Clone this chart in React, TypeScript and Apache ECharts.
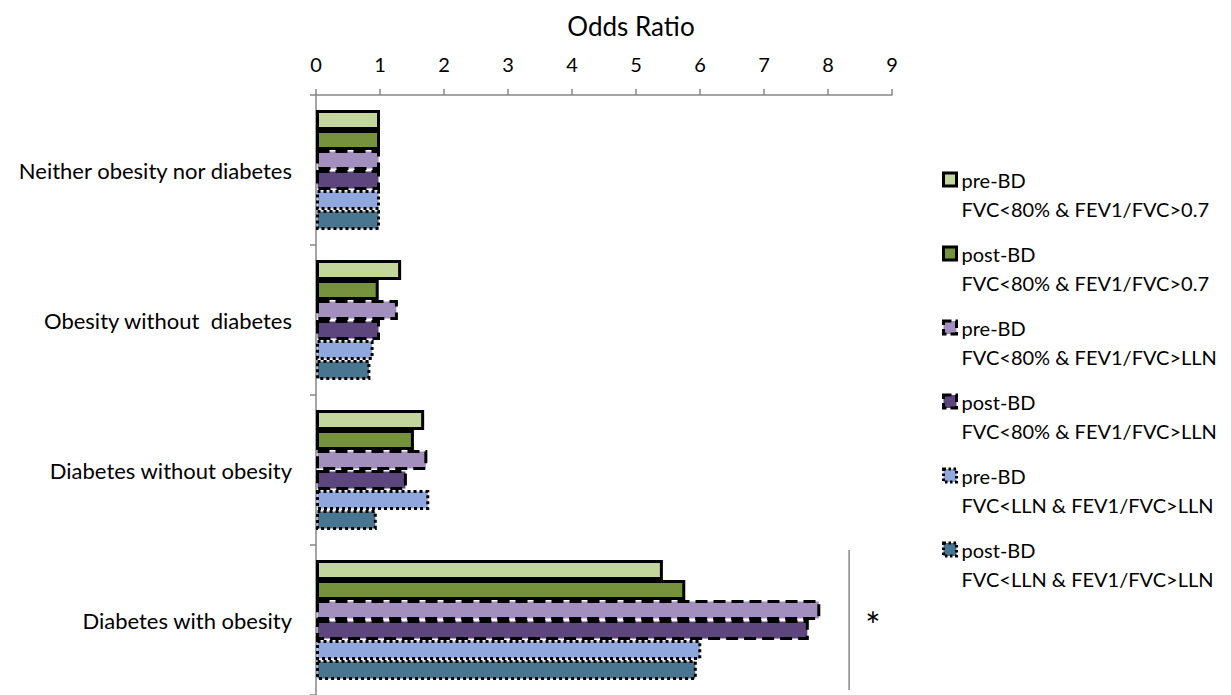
import React, { useEffect, useRef } from "react";
import * as echarts from "echarts";

const categories = [
  "Neither obesity nor diabetes",
  "Obesity without  diabetes",
  "Diabetes without obesity",
  "Diabetes with obesity",
];
const xTicks = [0, 1, 2, 3, 4, 5, 6, 7, 8, 9];

const preBD80_07 = [1.0, 1.33, 1.69, 5.42];
const postBD80_07 = [1.0, 0.98, 1.53, 5.77];
const preBD80_LLN = [1.0, 1.28, 1.74, 7.88];
const postBD80_LLN = [1.0, 1.0, 1.42, 7.7];
const preBDLLN_LLN = [1.0, 0.9, 1.77, 6.02];
const postBDLLN_LLN = [1.0, 0.85, 0.95, 5.95];

const seriesNames = [
  "pre-BD\nFVC<80% & FEV1/FVC>0.7",
  "post-BD\nFVC<80% & FEV1/FVC>0.7",
  "pre-BD\nFVC<80% & FEV1/FVC>LLN",
  "post-BD\nFVC<80% & FEV1/FVC>LLN",
  "pre-BD\nFVC<LLN & FEV1/FVC>LLN",
  "post-BD\nFVC<LLN & FEV1/FVC>LLN",
];
const seriesData = [preBD80_07, postBD80_07, preBD80_LLN, postBD80_LLN, preBDLLN_LLN, postBDLLN_LLN];
const colors = ["#c3d69b", "#76923c", "#a28fbd", "#5d457e", "#8fa7dd", "#48758f"];
const borderTypes: any[] = ["solid", "solid", [12, 6], [12, 6], [3, 3], [3, 3]];
const legendBorderTypes: any[] = ["solid", "solid", [8, 4], [8, 4], [2.5, 2.5], [2.5, 2.5]];

const sigLineValue = 8.33;
const starValue = 8.7;

const FONT = "Lato";

export default function App() {
  const ref = useRef<HTMLDivElement>(null);
  useEffect(() => {
    if (!ref.current) return;
    const chart = echarts.init(ref.current, null, { renderer: "svg" });
    chart.setOption({
      animation: false,
      textStyle: { fontFamily: FONT },
      title: {
        text: "Odds Ratio",
        left: 626,
        top: 8,
        textAlign: "center",
        textStyle: { fontFamily: FONT, fontSize: 26, fontWeight: "normal", color: "#000" },
      },
      grid: { left: 316, right: 339, top: 95, bottom: 0, outerBoundsMode: "none" },
      xAxis: {
        type: "value",
        position: "top",
        min: 0,
        max: 9,
        interval: 1,
        axisLine: { show: true, lineStyle: { color: "#868686", width: 1.5 } },
        axisTick: { show: true, length: 6, lineStyle: { color: "#868686", width: 1.5 } },
        axisLabel: {
          margin: 21,
          fontSize: 20,
          color: "#000",
          fontFamily: FONT,
          formatter: (v: number) => (xTicks.includes(v) ? String(v) : ""),
        },
        splitLine: { show: false },
      },
      yAxis: {
        type: "category",
        inverse: true,
        data: categories,
        axisLine: { show: true, lineStyle: { color: "#868686", width: 1.5 } },
        axisTick: { show: true, length: 6, lineStyle: { color: "#868686", width: 1.5 } },
        axisLabel: { margin: 24, fontSize: 22, color: "#000", fontFamily: FONT },
      },
      legend: {
        orient: "vertical",
        left: 937,
        top: 131,
        itemWidth: 13,
        itemHeight: 13,
        itemGap: -13,
        icon: "rect",
        formatter: (name: string) => "\n" + name,
        textStyle: { fontFamily: FONT, fontSize: 20, color: "#000", lineHeight: 29 },
        data: seriesNames.map((name, i) => ({
          name,
          itemStyle: {
            color: colors[i],
            borderColor: "#000",
            borderWidth: 3,
            borderType: legendBorderTypes[i],
          },
        })),
      },
      series: seriesNames.map((name, i) => ({
        name,
        type: "bar",
        data: seriesData[i],
        barWidth: 20,
        barGap: "0%",
        itemStyle: {
          color: colors[i],
          borderColor: "#000",
          borderWidth: 3,
          borderType: borderTypes[i],
        },
      })),
    });

    const x1 = chart.convertToPixel({ xAxisIndex: 0 }, sigLineValue) as number;
    const xs = chart.convertToPixel({ xAxisIndex: 0 }, starValue) as number;
    const yc = chart.convertToPixel({ yAxisIndex: 0 }, categories[3]) as number;
    chart.setOption({
      graphic: [
        {
          type: "line",
          shape: { x1: x1, y1: yc - 70, x2: x1, y2: yc + 70 },
          style: { stroke: "#868686", lineWidth: 1.5 },
        },
        {
          type: "text",
          x: xs,
          y: yc + 5,
          style: {
            text: "*",
            fontSize: 36,
            fontFamily: FONT,
            fill: "#000",
            textAlign: "center",
            textVerticalAlign: "middle",
          },
        },
      ],
    });
    return () => chart.dispose();
  }, []);
  return (
    <div
      ref={ref}
      style={{ position: "fixed", left: 0, top: 0, width: 1231, height: 695, background: "#fff" }}
    />
  );
}
